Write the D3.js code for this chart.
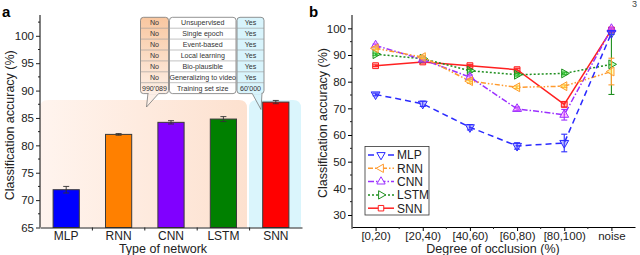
<!DOCTYPE html>
<html>
<head>
<meta charset="utf-8">
<script src="https://cdn.jsdelivr.net/npm/d3@7"></script>
<style>
  body { margin: 0; background: #fff; }
  svg { font-family: "Liberation Sans", Arial, sans-serif; }
</style>
</head>
<body>
<div class="chart"></div>
<script>
// panel a data
const networks = ['MLP', 'RNN', 'CNN', 'LSTM', 'SNN'];
const accuracy = [71.9, 82.0, 84.2, 84.8, 87.9];
const accuracyErr = [0.6, 0.15, 0.3, 0.45, 0.3];
const barColors = ['#0000ff', '#ff8000', '#8000ff', '#008000', '#ff0000'];
const yTicksA = [65, 70, 75, 80, 85, 90, 95, 100];

// table in panel a
const tableLeft = ['No', 'No', 'No', 'No', 'No', 'No', "990'089"];
const tableMid = ['Unsupervised', 'Single epoch', 'Event-based', 'Local learning', 'Bio-plausible', 'Generalizing to video', 'Training set size'];
const tableRight = ['Yes', 'Yes', 'Yes', 'Yes', 'Yes', 'Yes', "60'000"];

// panel b data
const occlusion = ['[0,20)', '[20,40)', '[40,60)', '[60,80)', '[80,100)', 'noise'];
const mlpAcc = [75.2, 71.7, 62.9, 55.9, 57.0, 98.2];
const rnnAcc = [92.5, 89.2, 80.2, 77.9, 78.3, 83.8];
const cnnAcc = [93.6, 88.3, 81.7, 69.8, 67.6, 99.8];
const lstmAcc = [90.3, 88.6, 84.1, 82.6, 83.1, 86.5];
const snnAcc = [86.0, 87.4, 86.0, 84.5, 71.5, 99.4];
const mlpErr = [0.5, 1.0, 1.0, 1.2, 3.3, 0.5];
const rnnErr = [0.5, 0.5, 0.8, 0.5, 0.5, 5.0];
const cnnErr = [0.5, 0.5, 0.8, 0.7, 2.0, 0.4];
const lstmErr = [0.4, 0.5, 0.5, 0.5, 0.5, 11.3];
const snnErr = [0.3, 0.4, 0.4, 0.5, 1.0, 0.3];
const yTicksB = [30, 40, 50, 60, 70, 80, 90, 100];

const series = [
  { name: 'MLP', values: mlpAcc, err: mlpErr, color: '#2b2bff', dash: '6,4', sym: d3.symbolTriangle, rot: 180 },
  { name: 'RNN', values: rnnAcc, err: rnnErr, color: '#ff9a2e', dash: '5,2,1.5,2,1.5,2', sym: d3.symbolTriangle, rot: -90 },
  { name: 'CNN', values: cnnAcc, err: cnnErr, color: '#9b30ff', dash: '6,2,1.5,2', sym: d3.symbolTriangle, rot: 0 },
  { name: 'LSTM', values: lstmAcc, err: lstmErr, color: '#1f8f1f', dash: '2,2', sym: d3.symbolTriangle, rot: 90 },
  { name: 'SNN', values: snnAcc, err: snnErr, color: '#ff2020', dash: null, sym: d3.symbolSquare, rot: 0 }
];

const svg = d3.select('.chart')
  .append('svg')
  .attr('width', 640)
  .attr('height', 255);

const defs = svg.append('defs');

drawPanelA();
drawPanelB();

function drawPanelA() {
  const left = 40, right = 302, top = 15, bottom = 227.5;

  const x = d3.scaleBand().domain(networks).range([left, right]).paddingInner(0.5).paddingOuter(0.25);
  const y = d3.scaleLinear().domain([65, 103.8]).range([bottom, top]);

  // shaded backgrounds behind the bars
  const grad = defs.append('linearGradient').attr('id', 'peach').attr('x1', 0).attr('x2', 1).attr('y1', 0).attr('y2', 0);
  grad.append('stop').attr('offset', 0).attr('stop-color', '#fff4ee');
  grad.append('stop').attr('offset', 1).attr('stop-color', '#fde1cf');
  const bgTop = y(88.3);
  svg.append('path')
    .attr('d', roundedTop(left, bgTop, 247 - left, bottom - bgTop, 8))
    .attr('fill', 'url(#peach)');
  svg.append('path')
    .attr('d', roundedTop(249, bgTop, 301 - 249, bottom - bgTop, 8))
    .attr('fill', '#daf5fc');

  // bars
  svg.append('g').selectAll('rect')
    .data(networks)
    .enter()
    .append('rect')
    .attr('x', d => x(d))
    .attr('width', x.bandwidth())
    .attr('y', (d, i) => y(accuracy[i]))
    .attr('height', (d, i) => bottom - y(accuracy[i]))
    .attr('fill', (d, i) => barColors[i])
    .attr('stroke', '#3a3a3a')
    .attr('stroke-width', 1);

  // error bars
  const eb = svg.append('g').attr('stroke', '#333').attr('stroke-width', 0.9);
  networks.forEach((d, i) => {
    const cx = x(d) + x.bandwidth() / 2;
    eb.append('line').attr('x1', cx).attr('x2', cx)
      .attr('y1', y(accuracy[i] - accuracyErr[i])).attr('y2', y(accuracy[i] + accuracyErr[i]));
    [accuracy[i] - accuracyErr[i], accuracy[i] + accuracyErr[i]].forEach(v => {
      eb.append('line').attr('x1', cx - 3).attr('x2', cx + 3).attr('y1', y(v)).attr('y2', y(v));
    });
  });

  // y axis
  const yAxis = svg.append('g')
    .attr('transform', `translate(${left},0)`)
    .call(d3.axisLeft(y).tickValues(yTicksA).tickSize(4).tickSizeOuter(0));
  yAxis.select('.domain').attr('d', `M0,${bottom}V${top}`);
  yAxis.selectAll('text').attr('font-size', 11.5).attr('fill', '#222').attr('x', -6);
  yAxis.selectAll('line').attr('stroke', '#222');
  const minorA = d3.range(67.5, 103.8, 5);
  svg.append('g').selectAll('line').data(minorA).enter().append('line')
    .attr('x1', left - 2).attr('x2', left).attr('y1', d => y(d)).attr('y2', d => y(d))
    .attr('stroke', '#222');

  // x axis
  const xAxis = svg.append('g')
    .attr('transform', `translate(0,${bottom})`)
    .call(d3.axisBottom(x).tickSize(0).tickSizeOuter(0));
  xAxis.select('.domain').attr('stroke', '#222');
  xAxis.selectAll('text').attr('font-size', 12).attr('fill', '#222').attr('y', 4).attr('dy', '0.71em');
  const step = x.step();
  svg.append('g').selectAll('line').data(networks.slice(1)).enter().append('line')
    .attr('x1', d => x(d) - step * 0.25).attr('x2', d => x(d) - step * 0.25)
    .attr('y1', bottom).attr('y2', bottom + 3).attr('stroke', '#222');

  svg.append('text').text('Type of network')
    .attr('x', 163).attr('y', 252.5).attr('text-anchor', 'middle')
    .attr('font-size', 12.5).attr('fill', '#222');
  svg.append('text').text('Classification accuracy (%)')
    .attr('transform', `translate(14,${(top + bottom) / 2 + 4}) rotate(-90)`)
    .attr('text-anchor', 'middle').attr('font-size', 12.5).attr('fill', '#222');
  svg.append('text').text('a')
    .attr('x', 2).attr('y', 17).attr('font-size', 15).attr('font-weight', 'bold');

  drawTable();
}

function drawTable() {
  const t = svg.append('g');
  const top = 17.3, rowH = 10.9, n = tableMid.length;
  const cols = [
    { x0: 140.5, x1: 168.5, texts: tableLeft, fill: 'url(#orangeCol)' },
    { x0: 169.5, x1: 236, texts: tableMid, fill: '#fff' },
    { x0: 237, x1: 264, texts: tableRight, fill: '#d8f4fc' }
  ];
  const og = defs.append('linearGradient').attr('id', 'orangeCol').attr('x1', 0).attr('x2', 0).attr('y1', 0).attr('y2', 1);
  og.append('stop').attr('offset', 0).attr('stop-color', '#f9c7a0');
  og.append('stop').attr('offset', 1).attr('stop-color', '#fdefe6');
  const bottom = top + rowH * n;

  // callout pointers
  t.append('path')
    .attr('d', `M148,${bottom - 0.5}L146.5,107L159,${bottom - 0.5}`)
    .attr('fill', '#fdf0e8').attr('stroke', '#777').attr('stroke-width', 0.8);
  t.append('path')
    .attr('d', `M252,${bottom - 0.5}L261,109.5L262,${bottom - 0.5}`)
    .attr('fill', '#d8f4fc').attr('stroke', '#777').attr('stroke-width', 0.8);

  cols.forEach(c => {
    t.append('rect')
      .attr('x', c.x0).attr('y', top).attr('width', c.x1 - c.x0).attr('height', bottom - top)
      .attr('rx', 3).attr('fill', c.fill).attr('stroke', '#777').attr('stroke-width', 0.8);
    for (let i = 1; i < n; i++) {
      t.append('line').attr('x1', c.x0).attr('x2', c.x1)
        .attr('y1', top + i * rowH).attr('y2', top + i * rowH)
        .attr('stroke', '#999').attr('stroke-width', 0.6);
    }
    t.selectAll(null).data(c.texts).enter().append('text')
      .text(d => d)
      .attr('x', (c.x0 + c.x1) / 2)
      .attr('y', (d, i) => top + i * rowH + rowH / 2 + 2.6)
      .attr('text-anchor', 'middle')
      .attr('font-size', 7.1)
      .attr('fill', '#333');
  });
  // cover the pointer roots so they join the column
  t.append('line').attr('x1', 148.6).attr('x2', 158.4).attr('y1', bottom).attr('y2', bottom)
    .attr('stroke', '#fdf0e8').attr('stroke-width', 1.2);
  t.append('line').attr('x1', 252.6).attr('x2', 261.4).attr('y1', bottom).attr('y2', bottom)
    .attr('stroke', '#d8f4fc').attr('stroke-width', 1.2);
}

function drawPanelB() {
  const left = 352, right = 635, top = 15, bottom = 227;

  const x = d3.scalePoint().domain(occlusion).range([left, right]).padding(0.5);
  const y = d3.scaleLinear().domain([25.5, 105]).range([bottom, top]);

  // axes
  const yAxis = svg.append('g')
    .attr('transform', `translate(${left},0)`)
    .call(d3.axisLeft(y).tickValues(yTicksB).tickSize(4).tickSizeOuter(0));
  yAxis.select('.domain').attr('d', `M0,${bottom}V${top}`);
  yAxis.selectAll('text').attr('font-size', 11.5).attr('fill', '#222').attr('x', -6);
  svg.append('g').selectAll('line').data(d3.range(35, 105, 10)).enter().append('line')
    .attr('x1', left - 2).attr('x2', left).attr('y1', d => y(d)).attr('y2', d => y(d))
    .attr('stroke', '#222');

  const xAxis = svg.append('g')
    .attr('transform', `translate(0,${bottom})`)
    .call(d3.axisBottom(x).tickSize(4).tickSizeOuter(0));
  xAxis.selectAll('text').attr('font-size', 11.5).attr('fill', '#222').attr('y', 5).attr('dy', '0.71em');
  const step = x.step();
  svg.append('g').selectAll('line').data(occlusion).enter().append('line')
    .attr('x1', d => x(d) - step / 2).attr('x2', d => x(d) - step / 2)
    .attr('y1', bottom).attr('y2', bottom + 2).attr('stroke', '#222');

  svg.append('text').text('Degree of occlusion (%)')
    .attr('x', 493).attr('y', 252.5).attr('text-anchor', 'middle')
    .attr('font-size', 12.5).attr('fill', '#222');
  svg.append('text').text('Classification accuracy (%)')
    .attr('transform', `translate(327,${(top + bottom) / 2 + 2}) rotate(-90)`)
    .attr('text-anchor', 'middle').attr('font-size', 12.5).attr('fill', '#222');
  svg.append('text').text('b')
    .attr('x', 309).attr('y', 17).attr('font-size', 15).attr('font-weight', 'bold');
  svg.append('text').text('3')
    .attr('x', 632).attr('y', 7).attr('font-size', 9).attr('fill', '#444');

  const line = d3.line().x((d, i) => x(occlusion[i])).y(d => y(d));
  const symbol = d3.symbol().size(34);

  // draw lines back to front: SNN on top
  series.slice().reverse().forEach(s => {
    const g = svg.append('g');
    g.append('path')
      .datum(s.values)
      .attr('d', line)
      .attr('fill', 'none')
      .attr('stroke', s.color)
      .attr('stroke-width', 1.5)
      .attr('stroke-dasharray', s.dash);
    // error bars
    s.values.forEach((v, i) => {
      const cx = x(occlusion[i]);
      g.append('line').attr('x1', cx).attr('x2', cx)
        .attr('y1', y(v - s.err[i])).attr('y2', y(v + s.err[i]))
        .attr('stroke', s.color).attr('stroke-width', 1.1);
      [v - s.err[i], v + s.err[i]].forEach(e => {
        g.append('line').attr('x1', cx - 3).attr('x2', cx + 3).attr('y1', y(e)).attr('y2', y(e))
          .attr('stroke', s.color).attr('stroke-width', 1.1);
      });
    });
    g.selectAll('path.m')
      .data(s.values)
      .enter()
      .append('path')
      .attr('class', 'm')
      .attr('d', symbol.type(s.sym)())
      .attr('transform', (d, i) => `translate(${x(occlusion[i])},${y(d)}) rotate(${s.rot})`)
      .attr('fill', d3.color(s.color).brighter(1.6).copy({ opacity: 0.35 }))
      .attr('stroke', s.color)
      .attr('stroke-width', 1);
  });

  // legend
  const lg = svg.append('g');
  lg.append('rect').attr('x', 365).attr('y', 146.5).attr('width', 64).attr('height', 68.5)
    .attr('fill', '#fff').attr('stroke', '#333').attr('stroke-width', 0.8);
  series.forEach((s, i) => {
    const ly = 155 + i * 13.3;
    lg.append('line').attr('x1', 368).attr('x2', 394).attr('y1', ly).attr('y2', ly)
      .attr('stroke', s.color).attr('stroke-width', 1.5).attr('stroke-dasharray', s.dash);
    lg.append('path')
      .attr('d', d3.symbol().size(30).type(s.sym)())
      .attr('transform', `translate(381,${ly}) rotate(${s.rot})`)
      .attr('fill', '#fff').attr('stroke', s.color).attr('stroke-width', 1);
    lg.append('text').text(s.name).attr('x', 397).attr('y', ly + 4.3)
      .attr('font-size', 12).attr('fill', '#222');
  });
}

function roundedTop(x, y, w, h, r) {
  return `M${x},${y + h}V${y + r}Q${x},${y} ${x + r},${y}H${x + w - r}Q${x + w},${y} ${x + w},${y + r}V${y + h}Z`;
}
</script>
</body>
</html>
